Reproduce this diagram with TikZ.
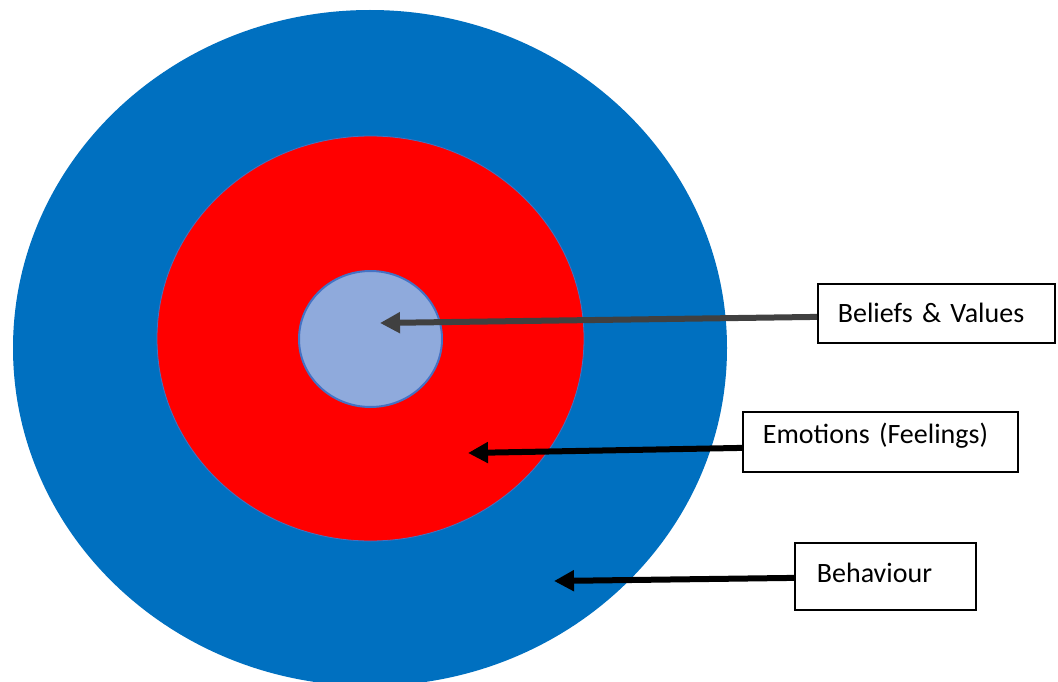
\documentclass[tikz,border=0pt]{standalone}
\usepackage{fontspec}
\setmainfont{Carlito}
\usetikzlibrary{arrows.meta}
\definecolor{outerblue}{HTML}{0070C0}
\definecolor{innerred}{HTML}{FF0000}
\definecolor{coreblue}{HTML}{8FAADC}
\definecolor{edgeblue}{HTML}{4472C4}
\definecolor{darkarrow}{HTML}{404040}
\tikzset{
  labelbox/.style={draw=black, line width=1.8pt, fill=white, rectangle, inner xsep=20pt, inner ysep=0pt, align=left, text height=24.6pt, text depth=6pt, font=\fontsize{28}{32}\selectfont, anchor=north west},
  pointer/.style={line width=6pt, -{Triangle[length=20pt,width=20pt]}},
}
\begin{document}
\begin{tikzpicture}[x=1pt,y=-1pt]
\useasboundingbox (0,0) rectangle (1058,682);
\clip (0,0) rectangle (1058,682);
\fill[white] (0,0) rectangle (1058,682);
\fill[outerblue] (370,348) ellipse [x radius=357, y radius=338];
\filldraw[fill=innerred, draw=edgeblue, line width=0.8pt] (370.5,338.5) ellipse [x radius=213.5, y radius=202.5];
\filldraw[fill=coreblue, draw=edgeblue, line width=2pt] (370.5,339) ellipse [x radius=71.5, y radius=68];
\coordinate (tipbv) at (380,323);
\coordinate (tipem) at (468,453);
\coordinate (tipbh) at (554,581);
\node[labelbox, text width=197pt, minimum height=59pt] (bv) at (817,283) {Beliefs \& Values};
\node[labelbox, text width=235pt, minimum height=60pt] (em) at (742,411) {\raisebox{8pt}{Emotions (Feelings)}};
\node[labelbox, inner xsep=22pt, text width=137pt, minimum height=67pt] (bh) at (794,542) {\raisebox{3pt}{Behaviour}};
\draw[pointer, darkarrow] ([yshift=-3.5pt]bv.west) -- (tipbv);
\draw[pointer, black] ([yshift=-6pt]em.west) -- (tipem);
\draw[pointer, black] ([yshift=-1.5pt]bh.west) -- (tipbh);
\end{tikzpicture}
\end{document}
